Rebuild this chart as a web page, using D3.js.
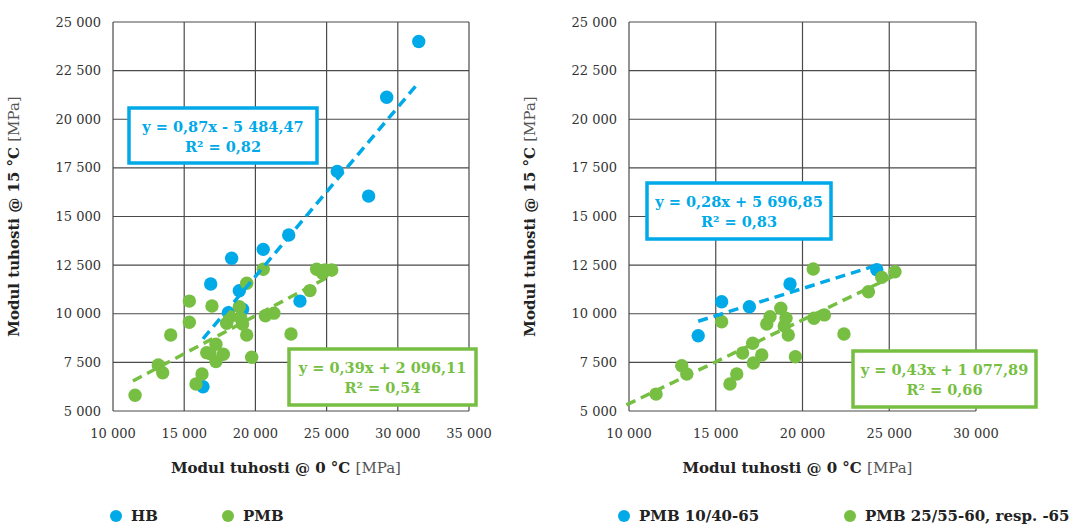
<!DOCTYPE html>
<html>
<head>
<meta charset="utf-8">
<script src="https://cdn.jsdelivr.net/npm/d3@7"></script>
<style>
  body { margin: 0; background: #fff; }
  svg { display: block; font-family: "DejaVu Serif", serif; }
</style>
</head>
<body>
<svg width="1075" height="525"></svg>
<script>
// left chart: HB / PMB
var hbX  = [31470, 29220, 25750, 27950, 22340, 20550, 18330, 16860, 18870, 23130, 19100, 18100, 16320];
var hbY  = [24000, 21130, 17320, 16050, 14050, 13310, 12850, 11530, 11180, 10650, 10230, 10050, 6250];
var pmbX = [11550, 13180, 13490, 14050, 15360, 15360, 15830, 16250, 16950, 16580, 17230, 17230, 17750, 16810, 17980, 18220, 18870, 18970, 19100, 19390, 19390, 19740, 20550, 20700, 21300, 22500, 23830, 24300, 24720, 25360, 24890];
var pmbY = [5810, 7370, 6970, 8910, 10650, 9560, 6390, 6900, 10400, 8000, 8430, 7540, 7920, 7960, 9510, 9850, 10360, 9770, 9470, 8910, 11570, 7760, 12290, 9900, 10030, 8960, 11190, 12290, 12080, 12250, 12250];

// right chart: PMB 10/40-65 / PMB 25/55-60
var pmb10X = [13990, 15340, 16940, 19280, 24280];
var pmb10Y = [8870, 10620, 10360, 11530, 12260];
var pmb25X = [11560, 13040, 13330, 15340, 15820, 16210, 16550, 17130, 17170, 17650, 17940, 18130, 18750, 19050, 18950, 19180, 19590, 20620, 20660, 21260, 22390, 23800, 24570, 25330];
var pmb25Y = [5870, 7330, 6900, 9590, 6390, 6900, 7980, 8480, 7470, 7880, 9470, 9850, 10280, 9770, 9370, 8910, 7790, 12300, 9770, 9940, 8960, 11130, 11870, 12160];

var leftXTicks = [10000, 15000, 20000, 25000, 30000, 35000];
var rightXTicks = [10000, 15000, 20000, 25000, 30000];
var yTicks = [5000, 7500, 10000, 12500, 15000, 17500, 20000, 22500, 25000];

var blue = "#00a9e8", green = "#77bf43";
var fmt = function(v) { return d3.format(",")(v).replace(/,/g, "\u202f").replace("\u202f", " "); };

var panels = [
  { x0: 113, x1: 469, xTicks: leftXTicks, xMax: 35000, legendX: [116, 228],
    series: [
      { name: "HB", xs: hbX, ys: hbY, color: blue, slope: 0.87, icpt: -5484.47, from: null,
        eq: "y = 0,87x - 5 484,47", r2: "0,82", box: [129, 108, 188, 55] },
      { name: "PMB", xs: pmbX, ys: pmbY, color: green, slope: 0.39, icpt: 2096.11, from: 11400,
        eq: "y = 0,39x + 2 096,11", r2: "0,54", box: [289, 349, 187, 56] }
    ] },
  { x0: 629, x1: 976, xTicks: rightXTicks, xMax: 30000, legendX: [624, 850],
    series: [
      { name: "PMB 10/40-65", xs: pmb10X, ys: pmb10Y, color: blue, slope: 0.28, icpt: 5696.85, from: null,
        eq: "y = 0,28x + 5 696,85", r2: "0,83", box: [647, 183, 184, 56] },
      { name: "PMB 25/55-60, resp. -65", xs: pmb25X, ys: pmb25Y, color: green, slope: 0.43, icpt: 1077.89, from: 9850,
        eq: "y = 0,43x + 1 077,89", r2: "0,66", box: [853, 351, 183, 56] }
    ] }
];

var svg = d3.select("svg");
var yTop = 22, yBot = 411;

panels.forEach(function(p) {
  var x = d3.scaleLinear().domain([10000, p.xMax]).range([p.x0, p.x1]);
  var y = d3.scaleLinear().domain([5000, 25000]).range([yBot, yTop]);
  var g = svg.append("g");

  // grid
  g.selectAll("line.vg").data(p.xTicks).enter().append("line")
   .attr("x1", d => x(d)).attr("x2", d => x(d))
   .attr("y1", yTop).attr("y2", yBot)
   .style("stroke", "#4a4a4a").style("stroke-width", 1.2);
  g.selectAll("line.hg").data(yTicks).enter().append("line")
   .attr("x1", p.x0).attr("x2", p.x1)
   .attr("y1", d => y(d)).attr("y2", d => y(d))
   .style("stroke", "#4a4a4a").style("stroke-width", 1.2);

  // tick labels
  g.selectAll("text.yt").data(yTicks).enter().append("text")
   .attr("x", p.x0 - 12).attr("y", d => y(d) + 4.5)
   .attr("text-anchor", "end").style("font-size", "13px").style("fill", "#333")
   .text(fmt);
  g.selectAll("text.xt").data(p.xTicks).enter().append("text")
   .attr("x", d => x(d)).attr("y", yBot + 27)
   .attr("text-anchor", "middle").style("font-size", "13px").style("fill", "#333")
   .text(fmt);

  // points
  p.series.forEach(function(s) {
    g.selectAll(null).data(d3.range(s.xs.length)).enter().append("circle")
     .attr("cx", i => x(s.xs[i])).attr("cy", i => y(s.ys[i]))
     .attr("r", 6.7).style("fill", s.color);
  });

  // trendlines on top
  p.series.forEach(function(s) {
    var a = s.from !== null ? s.from : d3.min(s.xs), b = d3.max(s.xs);
    g.append("line")
     .attr("x1", x(a)).attr("y1", y(s.slope * a + s.icpt))
     .attr("x2", x(b)).attr("y2", y(s.slope * b + s.icpt))
     .style("stroke", s.color).style("stroke-width", 3.5)
     .style("stroke-dasharray", "10,6");
  });

  // equation boxes
  p.series.forEach(function(s) {
    var bx = s.box;
    g.append("rect").attr("x", bx[0]).attr("y", bx[1]).attr("width", bx[2]).attr("height", bx[3])
     .style("fill", "#fff").style("stroke", s.color).style("stroke-width", 3.5);
    var cx = bx[0] + bx[2] / 2;
    g.append("text").attr("x", cx).attr("y", bx[1] + 24)
     .attr("text-anchor", "middle").style("font-size", "14.5px").style("font-weight", "bold")
     .style("fill", s.color).text(s.eq);
    var t = g.append("text").attr("x", cx).attr("y", bx[1] + 44)
     .attr("text-anchor", "middle").style("font-size", "14.5px").style("font-weight", "bold")
     .style("fill", s.color);
    t.append("tspan").text("R\u00b2 = " + s.r2);
  });

  // axis titles
  var xt = g.append("text").attr("x", (p.x0 + p.x1) / 2 - 5).attr("y", 473)
   .attr("text-anchor", "middle").style("font-size", "15px").style("fill", "#222");
  xt.append("tspan").style("font-weight", "bold").text("Modul tuhosti @ 0 \u00b0C ");
  xt.append("tspan").style("fill", "#555").text("[MPa]");

  var yt = g.append("text")
   .attr("transform", "translate(" + (p.x0 - 94) + "," + (yTop + yBot) / 2 + ") rotate(-90)")
   .attr("text-anchor", "middle").style("font-size", "15px").style("fill", "#222");
  yt.append("tspan").style("font-weight", "bold").text("Modul tuhosti @ 15 \u00b0C ");
  yt.append("tspan").style("fill", "#555").text("[MPa]");

  // legend
  p.series.forEach(function(s, i) {
    var lx = p.legendX[i];
    g.append("circle").attr("cx", lx).attr("cy", 516).attr("r", 6).style("fill", s.color);
    g.append("text").attr("x", lx + 15).attr("y", 521)
     .style("font-size", "15px").style("font-weight", "bold").style("fill", "#222")
     .text(s.name);
  });
});
</script>
</body>
</html>
